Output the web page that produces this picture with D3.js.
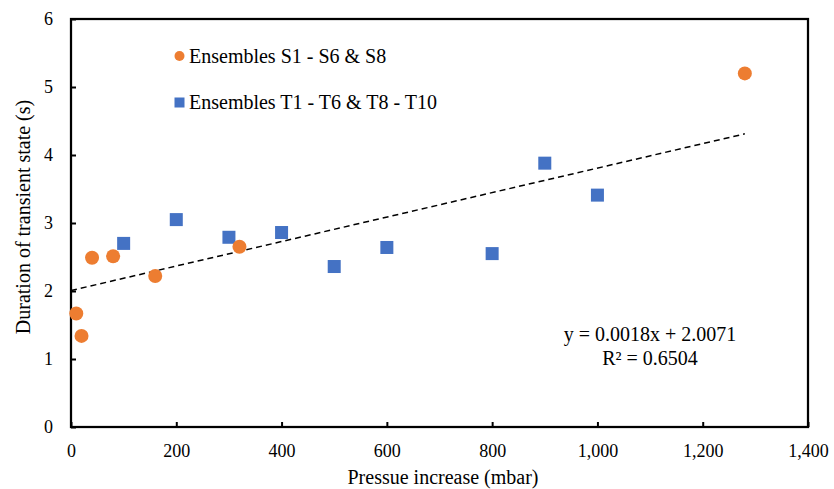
<!DOCTYPE html>
<html>
<head>
<meta charset="utf-8">
<script src="https://cdn.jsdelivr.net/npm/d3@7"></script>
<style>
  html, body { margin: 0; padding: 0; background: #fff; }
  svg { display: block; font-family: "Liberation Serif", "Times New Roman", serif; }
</style>
</head>
<body>
<svg id="chart" width="834" height="489"></svg>
<script>
// Ensembles S1 - S6 & S8
const sPressure = [10, 20, 40, 80, 160, 320, 1280];
const sDuration = [1.67, 1.34, 2.49, 2.51, 2.22, 2.65, 5.20];

// Ensembles T1 - T6 & T8 - T10
const tPressure = [100, 200, 300, 400, 500, 600, 800, 900, 1000];
const tDuration = [2.70, 3.05, 2.79, 2.86, 2.36, 2.64, 2.55, 3.88, 3.41];

// Linear trend over all points
const trendSlope = 0.0018;
const trendIntercept = 2.0071;
const trendRange = [0, 1280];
const trendLabel = ["y = 0.0018x + 2.0071", "R² = 0.6504"];

const seriesNames = ["Ensembles S1 - S6 & S8", "Ensembles T1 - T6 & T8 - T10"];
const xTicks = [0, 200, 400, 600, 800, 1000, 1200, 1400];
const yTicks = [0, 1, 2, 3, 4, 5, 6];
const xTitle = "Pressue increase (mbar)";
const yTitle = "Duration of transient state (s)";

const orange = "#ED7D31";
const blue = "#4472C4";
const serif = "Liberation Serif, Times New Roman, serif";

const svg = d3.select("#chart");
const plotLeft = 71, plotRight = 808, plotTop = 19, plotBottom = 427;

const x = d3.scaleLinear().domain([0, 1400]).range([plotLeft, plotRight]);
const y = d3.scaleLinear().domain([0, 6]).range([plotBottom, plotTop]);

// Plot frame
svg.append("rect")
  .attr("x", plotLeft).attr("y", plotTop)
  .attr("width", plotRight - plotLeft).attr("height", plotBottom - plotTop)
  .attr("fill", "none").attr("stroke", "#000").attr("stroke-width", 2.25);

// Axes with inward ticks
const xAxis = svg.append("g").attr("transform", `translate(0,${plotBottom})`)
  .call(d3.axisBottom(x).tickValues(xTicks).tickFormat(d3.format(","))
    .tickSizeInner(-5).tickSizeOuter(0).tickPadding(17));
const yAxis = svg.append("g").attr("transform", `translate(${plotLeft},0)`)
  .call(d3.axisLeft(y).tickValues(yTicks).tickFormat(d3.format("d"))
    .tickSizeInner(-5).tickSizeOuter(0).tickPadding(18));

[xAxis, yAxis].forEach(g => {
  g.attr("font-family", serif).attr("font-size", 18);
  g.select(".domain").remove();
  g.selectAll(".tick line").attr("stroke", "#000").attr("stroke-width", 2);
  g.selectAll(".tick text").attr("fill", "#000");
});
xAxis.selectAll(".tick text").attr("dy", "0.71em");

// Axis titles
svg.append("text")
  .attr("x", 443).attr("y", 484)
  .attr("text-anchor", "middle").attr("font-size", 20).attr("fill", "#000")
  .text(xTitle);
svg.append("text")
  .attr("transform", `translate(30,217) rotate(-90)`)
  .attr("text-anchor", "middle").attr("font-size", 20).attr("fill", "#000")
  .text(yTitle);

// Trend line
const trendPts = trendRange.map(v => [v, trendSlope * v + trendIntercept]);
svg.append("path")
  .attr("d", d3.line().x(d => x(d[0])).y(d => y(d[1]))(trendPts))
  .attr("fill", "none").attr("stroke", "#000")
  .attr("stroke-width", 1.5).attr("stroke-dasharray", "6,4");

// T series squares
const sq = 13;
svg.append("g").selectAll("rect")
  .data(d3.zip(tPressure, tDuration))
  .join("rect")
  .attr("x", d => x(d[0]) - sq / 2).attr("y", d => y(d[1]) - sq / 2)
  .attr("width", sq).attr("height", sq)
  .attr("fill", blue);

// S series circles
svg.append("g").selectAll("circle")
  .data(d3.zip(sPressure, sDuration))
  .join("circle")
  .attr("cx", d => x(d[0])).attr("cy", d => y(d[1]))
  .attr("r", 7)
  .attr("fill", orange);

// Legend
const legend = svg.append("g");
legend.append("circle").attr("cx", 179.5).attr("cy", 56).attr("r", 5).attr("fill", orange);
legend.append("text").attr("x", 189).attr("y", 63).attr("font-size", 20).attr("fill", "#000").text(seriesNames[0]);
legend.append("rect").attr("x", 174.5).attr("y", 97.5).attr("width", 10).attr("height", 10).attr("fill", blue);
legend.append("text").attr("x", 189).attr("y", 109).attr("font-size", 20).attr("fill", "#000").text(seriesNames[1]);

// Trend equation
svg.append("g").selectAll("text")
  .data(trendLabel)
  .join("text")
  .attr("x", 650).attr("y", (d, i) => 341 + i * 24)
  .attr("text-anchor", "middle").attr("font-size", 20).attr("fill", "#000")
  .text(d => d);
</script>
</body>
</html>
